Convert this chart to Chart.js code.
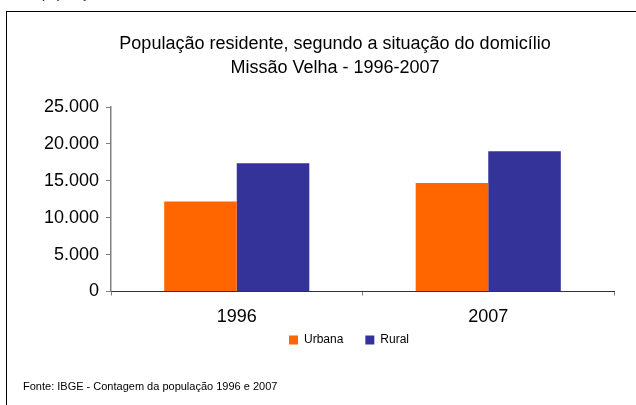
<!DOCTYPE html>
<html>
<head>
<meta charset="utf-8">
<script src="https://cdn.jsdelivr.net/npm/chart.js@4/dist/chart.umd.min.js"></script>
<style>
  html, body { margin: 0; padding: 0; background: #fff; }
  body { width: 636px; height: 405px; position: relative; overflow: hidden; font-family: "Liberation Sans", Arial, sans-serif; }
  #frame { position: absolute; left: 6px; top: 11px; width: 700px; height: 500px; border-top: 1px solid #000; border-left: 1px solid #000; }
  #wrap { position: absolute; left: 0; top: 0; width: 636px; height: 405px; }
  #footer { position: absolute; left: 23px; top: 380px; font-size: 11px; color: #000; white-space: nowrap; }
  #above { position: absolute; left: 42px; top: -14px; font-size: 13px; color: #000; white-space: nowrap; }
</style>
</head>
<body>
<div id="above">população</div>
<div id="frame"></div>
<div id="wrap"><canvas id="c" width="636" height="405"></canvas></div>
<div id="footer">Fonte: IBGE - Contagem da população 1996 e 2007</div>
<script>
const titleLines = ["População residente, segundo a situação do domicílio", "Missão Velha - 1996-2007"];
const categories = ["1996", "2007"];
const seriesNames = ["Urbana", "Rural"];
const urbana = [12200, 14700];
const rural = [17400, 19000];
const yTicks = [0, 5000, 10000, 15000, 20000, 25000];

function fmt(v) { return String(v).replace(/\B(?=(\d{3})+(?!\d))/g, '.'); }

const boxShift = {
  id: 'boxShift',
  afterLayout(chart) {
    const lg = chart.legend;
    if (lg) { lg.left += 39; lg.right += 39; lg.top += 1; lg.bottom += 1; }
    const tb = chart.titleBlock;
    if (tb) { tb.left += 25; tb.right += 25; }
    const xs = chart.scales.x;
    if (xs) { xs.bottom += 25; }
  }
};

new Chart(document.getElementById('c'), {
  type: 'bar',
  data: {
    labels: categories,
    datasets: [
      { label: seriesNames[0], data: urbana, backgroundColor: '#FF6600', borderWidth: 0 },
      { label: seriesNames[1], data: rural, backgroundColor: '#333399', borderWidth: 0 }
    ]
  },
  options: {
    responsive: false,
    animation: false,
    devicePixelRatio: 1,
    layout: { padding: { left: 6, right: 22, top: 0, bottom: 50 } },
    categoryPercentage: 0.577,
    barPercentage: 1.0,
    plugins: {
      title: {
        display: true,
        text: titleLines,
        color: '#000',
        font: { family: '"Liberation Sans", Arial, sans-serif', size: 18, weight: 'normal', lineHeight: 1.28 },
        padding: { top: 33, bottom: 28 }
      },
      legend: {
        display: true,
        position: 'bottom',
        labels: {
          color: '#000',
          boxWidth: 9,
          boxHeight: 9,
          padding: 22,
          font: { family: '"Liberation Sans", Arial, sans-serif', size: 12 }
        }
      },
      tooltip: { enabled: false }
    },
    scales: {
      x: {
        afterFit(s) { s.height = 19.5; },
        grid: { drawOnChartArea: false, drawTicks: true, tickLength: 4, color: '#808080', offset: true },
        border: { display: true, color: '#333333', width: 1 },
        ticks: { color: '#000', padding: 11, font: { family: '"Liberation Sans", Arial, sans-serif', size: 18 } }
      },
      y: {
        min: 0,
        max: 25000,
        afterFit(s) { s.width = 105; },
        afterBuildTicks(s) { s.ticks = yTicks.map(v => ({ value: v })); },
        grid: { drawOnChartArea: false, drawTicks: true, tickLength: 5, color: '#808080' },
        border: { display: true, color: '#808080', width: 1.5 },
        ticks: { color: '#000', padding: 7, callback: (v) => fmt(v), font: { family: '"Liberation Sans", Arial, sans-serif', size: 18 } }
      }
    }
  },
  plugins: [boxShift]
});
</script>
</body>
</html>
